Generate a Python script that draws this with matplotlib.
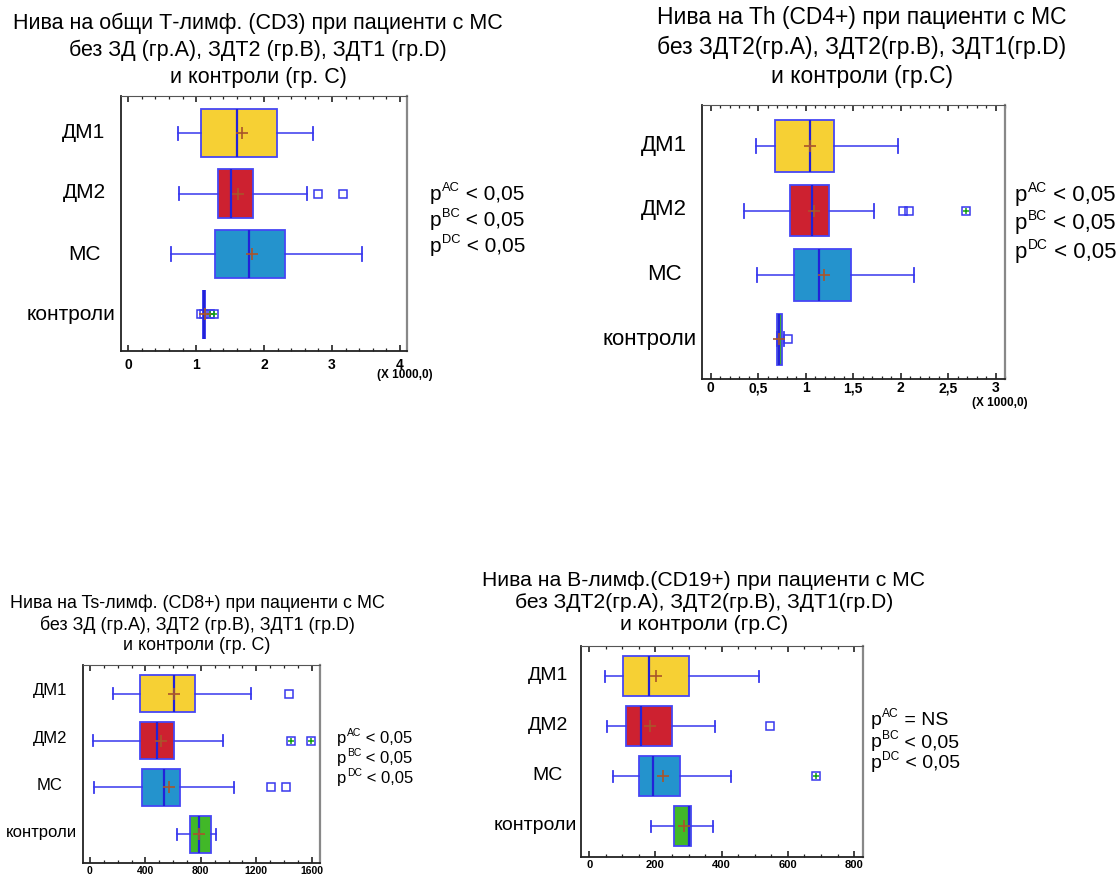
import numpy as np
import matplotlib
matplotlib.use('Agg')
import matplotlib.pyplot as plt
from matplotlib.ticker import MultipleLocator

plt.rcParams['font.family'] = ['Liberation Sans', 'DejaVu Sans']

W, H = 1119, 877

# категории (общи за четирите графики)
cats = ['ДМ1', 'ДМ2', 'МС', 'контроли']

# CD3 (x 1000)
cd3_lo = [0.726, 0.741, 0.623, 1.114]
cd3_q1 = [1.075, 1.320, 1.281, 1.114]
cd3_med = [1.600, 1.520, 1.772, 1.114]
cd3_q3 = [2.184, 1.840, 2.312, 1.114]
cd3_hi = [2.724, 2.636, 3.436, 1.114]
cd3_mean = [1.669, 1.610, 1.826, 1.130]
cd3_out = [[], [2.79, 3.17], [], [1.07, 1.12]]
cd3_far = [[], [], [], [1.20, 1.26]]

# CD4+ (x 1000)
cd4_lo = [0.478, 0.348, 0.488, 0.693]
cd4_q1 = [0.678, 0.840, 0.878, 0.703]
cd4_med = [1.047, 1.064, 1.138, 0.724]
cd4_q3 = [1.300, 1.250, 1.475, 0.748]
cd4_hi = [1.971, 1.725, 2.146, 0.776]
cd4_mean = [1.047, 1.093, 1.198, 0.724]
cd4_out = [[], [2.023, 2.087], [], [0.811]]
cd4_far = [[], [2.687], [], []]

# CD8+
cd8_lo = [169, 19, 31, 631]
cd8_q1 = [358, 358, 379, 720]
cd8_med = [604, 483, 532, 788]
cd8_q3 = [759, 609, 648, 872]
cd8_hi = [1163, 957, 1037, 911]
cd8_mean = [609, 512, 570, 788]
cd8_out = [[1433], [], [1303, 1414], []]
cd8_far = [[], [1450, 1595], [], []]

# CD19+
cd19_lo = [48, 53, 73, 185]
cd19_q1 = [103, 110, 150, 256]
cd19_med = [179, 155, 193, 300]
cd19_q3 = [301, 249, 274, 306]
cd19_hi = [514, 379, 429, 374]
cd19_mean = [202, 183, 223, 287]
cd19_out = [[], [547], [], []]
cd19_far = [[], [], [686], []]

# p-стойности
p_pairs = ['AC', 'BC', 'DC']
p_cd3 = ['< 0,05', '< 0,05', '< 0,05']
p_cd4 = ['< 0,05', '< 0,05', '< 0,05']
p_cd8 = ['< 0,05', '< 0,05', '< 0,05']
p_cd19 = ['= NS', '< 0,05', '< 0,05']

colors = ['#F6D034', '#CD2130', '#2493CD', '#41B828']
edge = '#4646F5'


def fx(x):
    return x / W


def fy(y):
    return 1 - y / H


def make_axes(l, r, t, b):
    return fig.add_axes([fx(l), fy(b), (r - l) / W, (b - t) / H])


def draw_panel(ax, lo, q1, med, q3, hi, mean, out, far, xlim, ylim,
               major, minor, tsize, tpad):
    stats = []
    for i in range(len(cats)):
        stats.append(dict(whislo=lo[i], q1=q1[i], med=med[i], q3=q3[i],
                          whishi=hi[i], mean=mean[i],
                          fliers=out[i] + far[i]))
    pos = np.arange(1, len(cats) + 1)
    bp = ax.bxp(stats, positions=pos, vert=False, widths=0.8,
                patch_artist=True, showmeans=True, capwidths=0.22,
                boxprops=dict(edgecolor=edge, linewidth=1.3),
                medianprops=dict(color='#2222D8', linewidth=1.6),
                whiskerprops=dict(color='#3838EE', linewidth=1.1),
                capprops=dict(color='#3838EE', linewidth=1.3),
                meanprops=dict(marker='+', markeredgecolor='#A9552A',
                               markersize=8, markeredgewidth=1.2),
                flierprops=dict(marker='s', markerfacecolor='none',
                                markeredgecolor='#3838EE', markersize=5.5,
                                markeredgewidth=1.1))
    for i, (patch, c) in enumerate(zip(bp['boxes'], colors)):
        patch.set_facecolor(c)
        if q1[i] == q3[i]:
            # свита кутия -> дебела линия
            patch.set_linewidth(2.6)
            patch.set_edgecolor('#1E1EF0')
    for i in range(len(cats)):
        if far[i]:
            ax.plot(far[i], [pos[i]] * len(far[i]), '+', color='#12A012',
                    markersize=5, markeredgewidth=1.1)
    ax.set_xlim(xlim)
    ax.set_ylim(ylim)
    ax.set_yticks([])
    ax.xaxis.set_major_locator(MultipleLocator(major))
    ax.xaxis.set_minor_locator(MultipleLocator(minor))
    ax.tick_params(axis='x', which='both', direction='in', top=True,
                   bottom=True, color='#222222')
    ax.tick_params(axis='x', which='major', length=4, width=1.2,
                   labelsize=tsize, pad=tpad)
    ax.tick_params(axis='x', which='minor', length=2.5, width=0.9)
    for lab in ax.get_xticklabels():
        lab.set_fontweight('bold')
    ax.spines['left'].set_color('#222222')
    ax.spines['bottom'].set_color('#222222')
    ax.spines['left'].set_linewidth(1.3)
    ax.spines['bottom'].set_linewidth(1.3)
    ax.spines['top'].set_color('#555555')
    ax.spines['right'].set_color('#888888')
    ax.spines['right'].set_linewidth(1.6)


def comma_fmt(v, pos):
    s = ('%g' % v).replace('.', ',')
    return s


def cat_labels(ys, cx, rx, size):
    for i, name in enumerate(cats):
        if name == 'контроли':
            fig.text(fx(rx), fy(ys[i]), name, ha='right', va='center',
                     fontsize=size)
        else:
            fig.text(fx(cx), fy(ys[i]), name, ha='center', va='center',
                     fontsize=size)


def p_texts(results, x, ys, size):
    # p + малък горен индекс + резултат, на една базова линия
    for pair, res, y in zip(p_pairs, results, ys):
        t = fig.text(fx(x), fy(y), 'p', ha='left', va='baseline',
                     fontsize=size)
        sup = plt.annotate(pair, xy=(1, fy(y)),
                           xycoords=(t, 'figure fraction'),
                           xytext=(0.4, size * 0.42),
                           textcoords='offset points',
                           fontsize=size * 0.62, ha='left', va='baseline')
        plt.annotate(' ' + res, xy=(1, fy(y)),
                     xycoords=(sup, 'figure fraction'),
                     xytext=(0, 0), textcoords='offset points',
                     fontsize=size, ha='left', va='baseline')


fig = plt.figure(figsize=(W / 100, H / 100), dpi=100)

# --- CD3 ---
ax1 = make_axes(120.7, 407.3, 95.7, 350.7)
draw_panel(ax1, cd3_lo, cd3_q1, cd3_med, cd3_q3, cd3_hi, cd3_mean, cd3_out,
           cd3_far, (-0.112, 4.11), (4.60, 0.38), 1, 0.2, 10, 5)
fig.text(fx(258), fy(50.5), 'Нива на общи Т-лимф. (CD3) при пациенти с МС\n'
         'без ЗД (гр.А), ЗДТ2 (гр.В), ЗДТ1 (гр.D)\nи контроли (гр. С)',
         ha='center', va='center', fontsize=15.5, linespacing=1.37)
cat_labels([133, 193, 254, 314], 84, 116, 15)
fig.text(fx(377), fy(375), '(X 1000,0)', ha='left', va='center',
         fontsize=8.5, fontweight='bold')

# --- CD4+ ---
ax2 = make_axes(701.7, 1005, 105, 379.3)
draw_panel(ax2, cd4_lo, cd4_q1, cd4_med, cd4_q3, cd4_hi, cd4_mean, cd4_out,
           cd4_far, (-0.095, 3.10), (4.62, 0.36), 0.5, 0.1, 10, 1.5)
ax2.xaxis.set_major_formatter(comma_fmt)
for lab in ax2.get_xticklabels():
    lab.set_fontweight('bold')
fig.text(fx(862), fy(47), 'Нива на Th (CD4+) при пациенти с МС\n'
         'без ЗДТ2(гр.А), ЗДТ2(гр.В), ЗДТ1(гр.D)\nи контроли (гр.С)',
         ha='center', va='center', fontsize=16.5, linespacing=1.37)
cat_labels([146, 210, 275, 339], 664, 697, 16)
fig.text(fx(972), fy(403), '(X 1000,0)', ha='left', va='center',
         fontsize=8.5, fontweight='bold')

# --- CD8+ ---
ax3 = make_axes(83, 320, 665, 863)
draw_panel(ax3, cd8_lo, cd8_q1, cd8_med, cd8_q3, cd8_hi, cd8_mean, cd8_out,
           cd8_far, (-50, 1660), (4.61, 0.39), 400, 100, 7.5, 2)
fig.text(fx(197), fy(624), 'Нива на Ts-лимф. (CD8+) при пациенти с МС\n'
         'без ЗД (гр.А), ЗДТ2 (гр.В), ЗДТ1 (гр.D)\nи контроли (гр. С)',
         ha='center', va='center', fontsize=12.9, linespacing=1.26)
cat_labels([691, 738, 786, 833], 50, 77, 12)

# --- CD19+ ---
ax4 = make_axes(581, 862.7, 645.7, 857.3)
draw_panel(ax4, cd19_lo, cd19_q1, cd19_med, cd19_q3, cd19_hi, cd19_mean,
           cd19_out, cd19_far, (-25, 826), (4.62, 0.39), 200, 50, 8, 2)
fig.text(fx(704), fy(602.5), 'Нива на В-лимф.(CD19+) при пациенти с МС\n'
         'без ЗДТ2(гр.А), ЗДТ2(гр.В), ЗДТ1(гр.D)\nи контроли (гр.С)',
         ha='center', va='center', fontsize=15.2, linespacing=1.19)
cat_labels([676, 726, 776, 826], 548, 577, 14)

p_texts(p_cd3, 430, [200, 226, 252], 15)
p_texts(p_cd4, 1015, [201, 229, 258], 16)
p_texts(p_cd8, 337, [743, 763, 783], 12)
p_texts(p_cd19, 871, [725, 747, 768], 14)

fig.savefig('out.png', dpi=100)
